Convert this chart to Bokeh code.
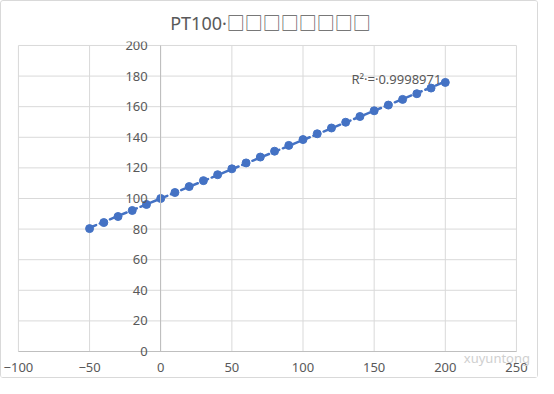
from bokeh.plotting import figure
from bokeh.models import Range1d, FixedTicker, Label
from bokeh.embed import file_html
from bokeh.resources import INLINE
import numpy as np

title_text = "PT100·□□□□□□□□"
temperature = [-50, -40, -30, -20, -10, 0, 10, 20, 30, 40, 50, 60, 70, 80, 90,
               100, 110, 120, 130, 140, 150, 160, 170, 180, 190, 200]
resistance = [80.31, 84.27, 88.22, 92.16, 96.09, 100.00, 103.90, 107.79, 111.67,
              115.54, 119.40, 123.24, 127.08, 130.90, 134.71, 138.51, 142.29,
              146.07, 149.83, 153.58, 157.33, 161.05, 164.77, 168.48, 172.17, 175.86]
x_ticks = [-100, -50, 0, 50, 100, 150, 200, 250]
y_ticks = [0, 20, 40, 60, 80, 100, 120, 140, 160, 180, 200]
r2_text = "R²·=·0.9998971"
watermark_text = "xuyuntong"

BLUE = "#4472C4"
GRID = "#D9D9D9"
AXIS = "#BFBFBF"
TXT = "#595959"
FONT = "Noto Sans"

# the frame is a little larger than the data area so axis labels drawn at
# fixed locations (x = 0, y = 0) are not clipped
p = figure(width=538, height=378, x_range=Range1d(-111.9, 266.2), y_range=Range1d(-18.3, 202.6),
           output_backend="svg", toolbar_location=None,
           min_border_left=0, min_border_right=0, min_border_top=40, min_border_bottom=0)
p.outline_line_color = None
p.background_fill_color = "white"
p.border_fill_color = "white"
p.styles = {"border": "1px solid #D9D9D9", "border-radius": "3px"}

p.title.text = title_text
p.title.align = "center"
p.title.text_font = "Noto Sans, Noto Sans CJK SC"
p.title.text_font_size = "18px"
p.title.text_font_style = "normal"
p.title.text_color = TXT
p.title.standoff = 13

for ax in (p.xaxis, p.yaxis):
    ax.major_tick_line_color = None
    ax.minor_tick_line_color = None
    ax.axis_line_color = AXIS
    ax.major_label_text_font = FONT
    ax.major_label_text_font_size = "13px"
    ax.major_label_text_color = TXT
p.xaxis.ticker = FixedTicker(ticks=x_ticks)
p.yaxis.ticker = FixedTicker(ticks=y_ticks)
p.xaxis.fixed_location = 0
p.yaxis.fixed_location = 0
p.xaxis.bounds = (x_ticks[0], x_ticks[-1])
p.yaxis.bounds = (y_ticks[0], y_ticks[-1])
p.xaxis.major_label_standoff = 6
p.yaxis.major_label_standoff = 7

# gridlines limited to the data area
p.xgrid.visible = False
p.ygrid.visible = False
p.segment(x0=x_ticks, y0=[y_ticks[0]] * len(x_ticks), x1=x_ticks, y1=[y_ticks[-1]] * len(x_ticks),
          line_color=GRID, line_width=1, level="underlay")
p.segment(x0=[x_ticks[0]] * len(y_ticks), y0=y_ticks, x1=[x_ticks[-1]] * len(y_ticks), y1=y_ticks,
          line_color=GRID, line_width=1, level="underlay")

# linear trendline fitted to the data
t = np.array(temperature, dtype=float)
r = np.array(resistance, dtype=float)
slope, intercept = np.polyfit(t, r, 1)
tx = [t.min(), t.max()]
ty = [slope * tx[0] + intercept, slope * tx[1] + intercept]

p.scatter(temperature, resistance, size=8, color=BLUE, line_color=BLUE)
p.line(tx, ty, line_color=BLUE, line_width=2.5, line_dash="7 4", line_cap="round")

p.add_layout(Label(x=134, y=178, text=r2_text, text_font=FONT, text_font_size="13px",
                   text_color=TXT, text_baseline="middle"))
p.add_layout(Label(x=213, y=-4.5, text=watermark_text, text_font=FONT, text_font_size="13px",
                   text_color="#CFCFCF", text_baseline="middle"))

open("out.html", "w").write(file_html(p, INLINE))
